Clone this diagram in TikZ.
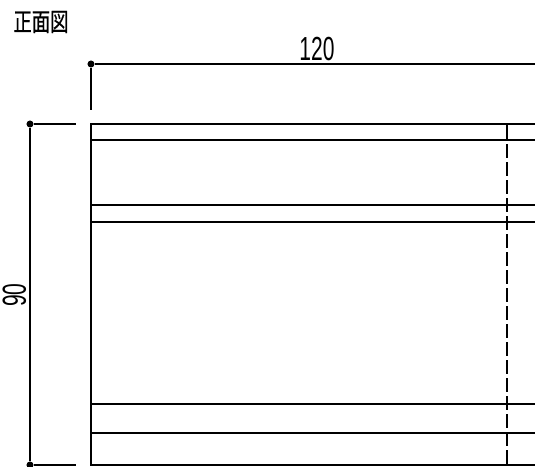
\documentclass[tikz,border=0pt]{standalone}
\usepackage{fontspec}
\setmainfont{Liberation Sans}
\newfontfamily\cjk[FakeBold=0.6]{Noto Sans CJK JP}
\usetikzlibrary{positioning}
\tikzstyle{dim_dot}=[circle, fill=black, inner sep=0pt, minimum size=4pt]
\tikzstyle{dim_line}=[line width=1.1pt, black]
\tikzstyle{dim_text}=[inner sep=0pt, font=\fontsize{19}{20}\selectfont]
\tikzstyle{part_line}=[line width=1.1pt, black]
\tikzstyle{hidden_line}=[line width=1.4pt, black, dash pattern=on 7.7pt off 2.56pt]
\begin{document}
\begin{tikzpicture}[x=0.02cm, y=-0.02cm]
              \useasboundingbox (0,0) rectangle (535,467);
              \node[inner sep=0pt, xscale=0.72, font=\fontsize{14.5}{15}\cjk] (title) at (41,22){正面図};
              \node[dim_dot] (dimw0) at (91,64){};
              \coordinate (dimw1) at (535,64);
              \coordinate (dimw2) at (91,110);
              \node[dim_dot] (dimh0) at (30,124){};
              \node[dim_dot] (dimh1) at (30,465){};
              \coordinate (dimh2) at (76,124);
              \coordinate (dimh3) at (76,465);
              \node[dim_text, xscale=0.63] (lenw) at (317,49){120};
              \node[dim_text, rotate=90, xscale=0.63] (lenh) at (14.5,295){90};
              \coordinate (tl) at (91,124);
              \coordinate (bl) at (91,465);
              \coordinate (tr) at (535,124);
              \coordinate (br) at (535,465);
              \coordinate (a0) at (91,140);
              \coordinate (a1) at (535,140);
              \coordinate (b0) at (91,205);
              \coordinate (b1) at (535,205);
              \coordinate (c0) at (91,222);
              \coordinate (c1) at (535,222);
              \coordinate (d0) at (91,404);
              \coordinate (d1) at (535,404);
              \coordinate (e0) at (91,433);
              \coordinate (e1) at (535,433);
              \coordinate (h0) at (507,124);
              \coordinate (h1) at (507,140);
              \coordinate (h2) at (507,144);
              \coordinate (h3) at (507,465);
              \draw[dim_line](dimw0) -- (dimw1);
              \draw[dim_line](dimw0) -- (dimw2);
              \draw[dim_line, line width=1.4pt](dimh0) -- (dimh1);
              \draw[dim_line](dimh0) -- (dimh2);
              \draw[dim_line](dimh1) -- (dimh3);
              \draw[part_line](tr) -- (tl) -- (bl) -- (br);
              \draw[part_line](a0) -- (a1);
              \draw[part_line](b0) -- (b1);
              \draw[part_line](c0) -- (c1);
              \draw[part_line](d0) -- (d1);
              \draw[part_line](e0) -- (e1);
              \draw[part_line, line width=1.4pt](h0) -- (h1);
              \draw[hidden_line](h2) -- (h3);
            \end{tikzpicture}
\end{document}
